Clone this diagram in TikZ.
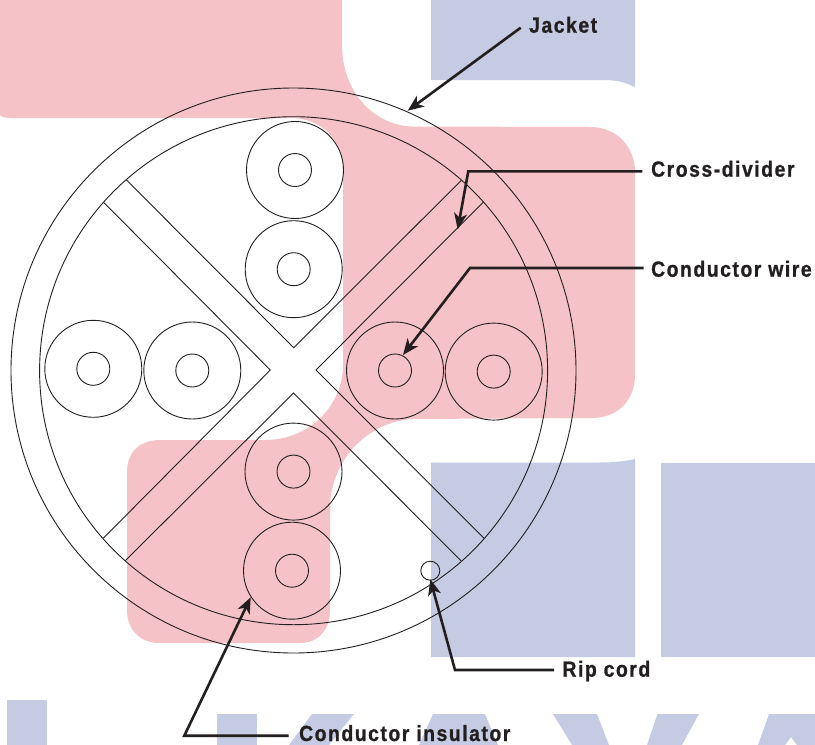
\documentclass[tikz,border=0pt]{standalone}
\usepackage{fontspec}
\usetikzlibrary{arrows.meta}
\newfontfamily\lblfont{Liberation Sans}[UprightFont={* Bold},FakeStretch=0.88,LetterSpace=7,FakeBold=0.9]
\definecolor{wmpink}{HTML}{F5C2C7}
\definecolor{wmblue}{HTML}{C5CBE2}
\definecolor{ink}{HTML}{231F20}
\tikzset{
  thin line/.style={draw=ink,line width=0.9pt},
  ring/.style={circle,thin line,inner sep=0pt,outer sep=0pt},
  sleeve/.style={ring,minimum size=97pt},
  core/.style={ring,minimum size=33pt},
  divider/.style={thin line,line join=miter},
  label text/.style={anchor=base west,inner ysep=0pt,inner xsep=0pt,text=ink,font=\lblfont\fontsize{22}{24}\selectfont},
  leader/.style={draw=ink,line width=2.6pt,-{Stealth[length=16pt,width=13pt,inset=4.5pt]}},
}
\begin{document}
\begin{tikzpicture}[x=1pt,y=-1pt]
\useasboundingbox (0,0) rectangle (815,745);
% watermark, blue
\fill[wmblue] (431,0) -- (635,0) -- (635,87) .. controls (622,81) and (615,80) .. (600,80) -- (431,80) -- cycle;
\fill[wmblue] (431,462.5) -- (600,462.5) .. controls (615,462.5) and (625,461) .. (635,459) -- (635,657) -- (431,657) -- cycle;
\fill[wmblue] (661,462.5) -- (815,462.5) -- (815,657) -- (661,657) -- cycle;
\fill[wmblue] (7,700) -- (47,700) -- (47,745) -- (7,745) -- cycle;
\fill[wmblue] (217,713.5) -- (257,713.5) -- (257,745) -- (217,745) -- cycle;
\fill[wmblue] (312,714) -- (354,714) -- (329,745) -- (289,745) -- cycle;
\fill[wmblue] (433,714) -- (485,714) -- (498,745) -- (419,745) -- cycle;
\fill[wmblue] (553,714) -- (597,714) -- (609,745) -- (572,745) -- cycle;
\fill[wmblue] (657.5,714) -- (699,714) -- (682,745) -- (647,745) -- cycle;
\fill[wmblue] (769,714) -- (815,714) -- (815,745) -- (797,745) -- (791,737) -- (785,745) -- (758,745) -- cycle;
% watermark, pink
\fill[wmpink] (0,0) -- (342,0) -- (342,45)
  .. controls (342,90) and (372,125) .. (412,126.5)
  -- (590,127) .. controls (618,127) and (635,148) .. (635,172)
  -- (635,375) .. controls (635,400) and (618,418) .. (592,418)
  -- (412,419) .. controls (375,421) and (333,452) .. (330,505)
  -- (330,610) .. controls (330,630) and (318,643) .. (300,643)
  -- (160,643) .. controls (140,643) and (127,630) .. (127,610)
  -- (127,472) .. controls (127,452) and (140,440) .. (160,440)
  -- (265,440) .. controls (310,440) and (343,405) .. (343,365)
  -- (343,170) .. controls (343,140) and (322,118) .. (290,118)
  -- (12,118) .. controls (5,118) and (2,117) .. (0,115) -- cycle;
% cable
\node[ring,minimum size=565pt] (jacket) at (293.5,370.5) {};
\node[ring,minimum size=508pt] (inner) at (293.6,370.7) {};
% cross divider
\coordinate (apexT) at (293.7,347.7);
\coordinate (apexL) at (270.3,370);
\coordinate (apexR) at (316,370);
\coordinate (apexB) at (293.5,393);
\coordinate (tl1) at (126,179.5);
\coordinate (tl2) at (103.3,202);
\coordinate (tr1) at (461.7,180);
\coordinate (tr2) at (483.7,201.7);
\coordinate (bl1) at (103.3,538.3);
\coordinate (bl2) at (125.3,560.7);
\coordinate (br1) at (484,538.3);
\coordinate (br2) at (461,560.7);
\draw[divider] (tl1) -- (apexT) -- (tr1);
\draw[divider] (tl2) -- (apexL) -- (bl1);
\draw[divider] (tr2) -- (apexR) -- (br1);
\draw[divider] (bl2) -- (apexB) -- (br2);
% pairs
\foreach \n/\px/\py in {a/295/170,b/293.7/269.2,c/93.3/368.8,d/192.3/370.5,e/395/370.5,f/493.7/371.6,g/293.5/471.6,h/292/570.7}{
  \node[sleeve] (s\n) at (\px,\py) {};
  \node[core] (w\n) at (\px,\py) {};
}
\node[ring,minimum size=19pt] (rip) at (430.3,570.7) {};
% labels
\node[label text] (lJacket) at (529,32.7) {Jacket};
\node[label text] (lCross) at (651,176.7) {Cross-divider};
\node[label text] (lWire) at (651,276.7) {Conductor wire};
\node[label text] (lRip) at (562.3,676.7) {Rip cord};
\node[label text] (lIns) at (299,741) {Conductor insulator};
% leaders
\coordinate (tipJacket) at (407.7,110.7);
\coordinate (bendCross) at (468.3,171.3);
\coordinate (tipCross) at (457.7,229.3);
\coordinate (bendWire) at (470,268);
\coordinate (tipWire) at (403,355);
\coordinate (bendIns) at (184.3,735.7);
\coordinate (tipIns) at (250.7,597.3);
\coordinate (bendRip) at (455,670);
\coordinate (tipRip) at (430.3,579.3);
\draw[leader] ([shift={(-8.3pt,5pt)}]lJacket.base west) -- (tipJacket);
\draw[leader] ([shift={(-8.7pt,5.4pt)}]lCross.base west) -- (bendCross) -- (tipCross);
\draw[leader] ([shift={(-7.3pt,8.7pt)}]lWire.base west) -- (bendWire) -- (tipWire);
\draw[leader] ([shift={(-10.3pt,5.3pt)}]lIns.base west) -- (bendIns) -- (tipIns);
\draw[leader] ([shift={(-8.3pt,6.7pt)}]lRip.base west) -- (bendRip) -- (tipRip);
\end{tikzpicture}
\end{document}
